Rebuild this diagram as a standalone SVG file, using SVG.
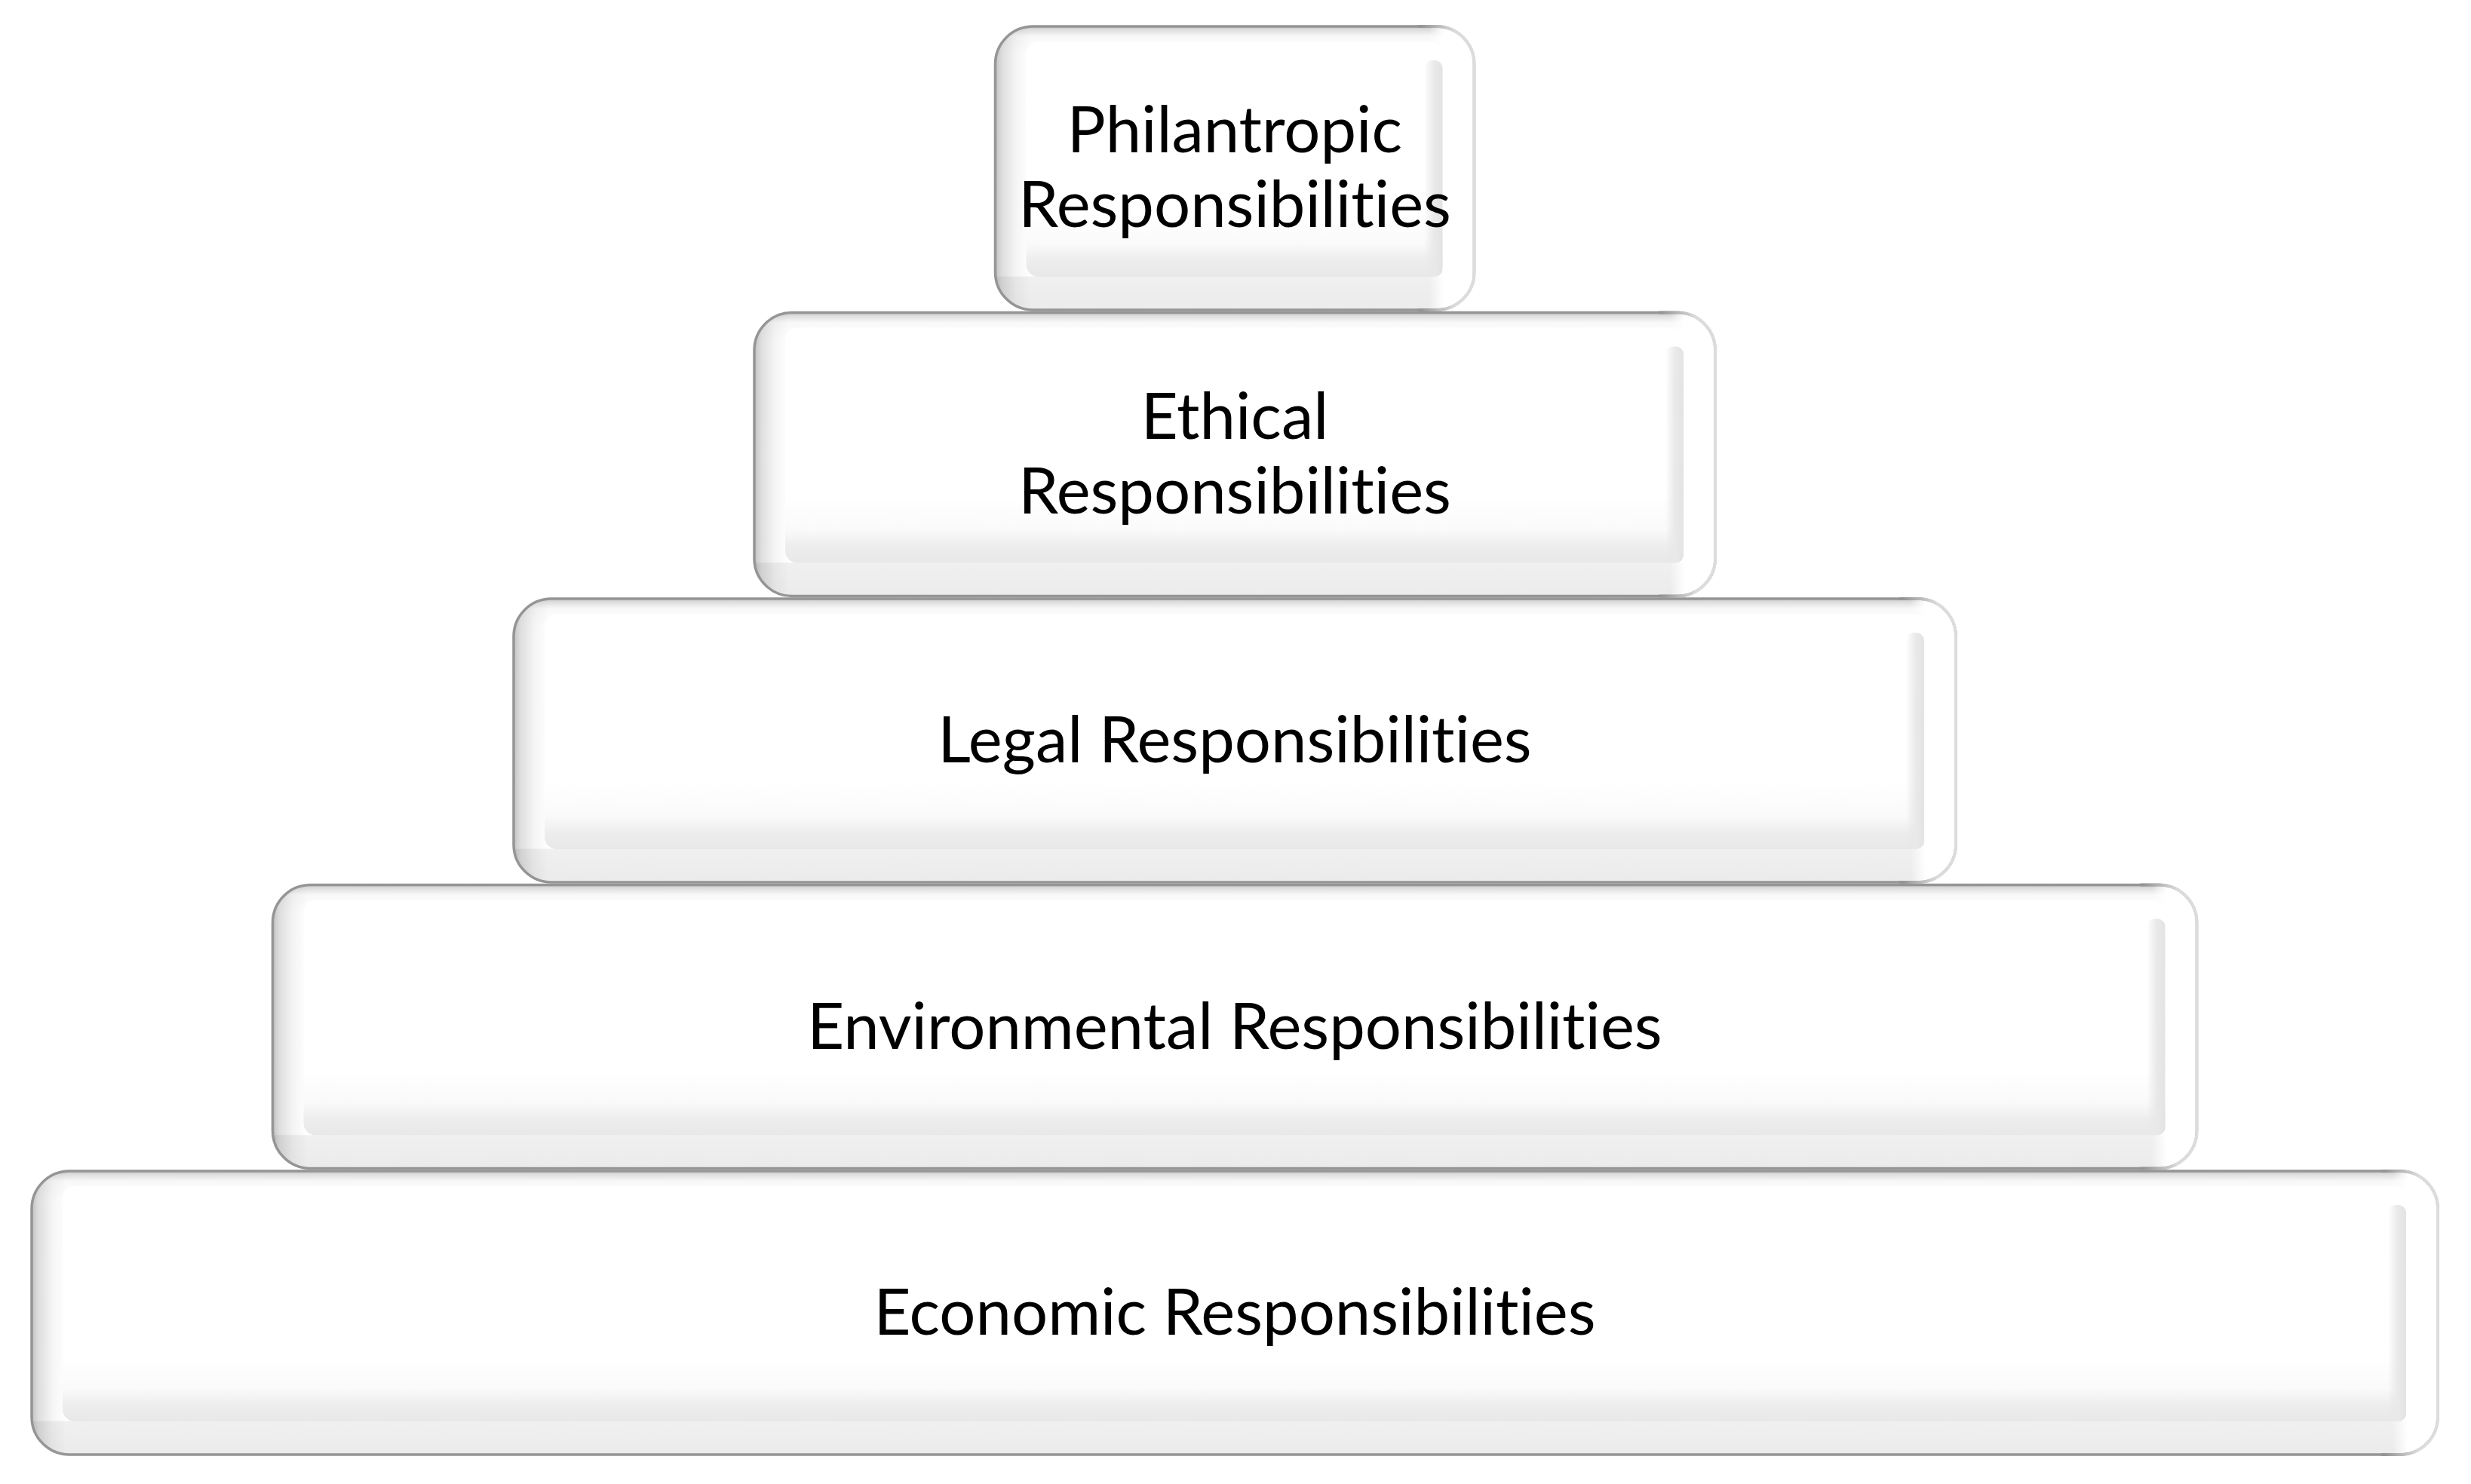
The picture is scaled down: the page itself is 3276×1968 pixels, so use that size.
<svg xmlns="http://www.w3.org/2000/svg" width="3276" height="1968" viewBox="0 0 3276 1968">
<style>
.bg{fill:#ffffff}
.ofill{fill:url(#gOuter)}
.lshade{fill:url(#gLeft)}
.rrim{fill:url(#gRightRim)}
.face{fill:url(#gFace)}
.strip{fill:url(#gStrip)}
.ostroke{fill:none;stroke:#959595;stroke-width:3.5}
.redge{fill:none;stroke:url(#gRightEdge);stroke-width:4}
.lbl{font-family:Lato,"Liberation Sans",sans-serif;font-size:85px;fill:#000000;text-anchor:middle;font-variant-ligatures:none;font-feature-settings:"liga" 0,"clig" 0}
</style>
<defs>
<linearGradient id="gOuter" gradientUnits="userSpaceOnUse" x1="0" y1="0" x2="0" y2="376">
<stop offset="0" stop-color="#c4c4c4"/>
<stop offset="0.012" stop-color="#dedede"/>
<stop offset="0.035" stop-color="#f8f8f8"/>
<stop offset="0.1" stop-color="#ffffff"/>
<stop offset="0.88" stop-color="#ffffff"/>
<stop offset="0.884" stop-color="#f0f0f0"/>
<stop offset="1" stop-color="#ebebeb"/>
</linearGradient>
<linearGradient id="gLeft" gradientUnits="userSpaceOnUse" x1="0" y1="0" x2="46" y2="0">
<stop offset="0" stop-color="#000" stop-opacity="0.24"/>
<stop offset="0.2" stop-color="#000" stop-opacity="0.13"/>
<stop offset="0.6" stop-color="#000" stop-opacity="0.04"/>
<stop offset="1" stop-color="#000" stop-opacity="0"/>
</linearGradient>
<linearGradient id="gRightRim" gradientUnits="userSpaceOnUse" x1="-60" y1="0" x2="-40" y2="0">
<stop offset="0" stop-color="#fff" stop-opacity="0"/>
<stop offset="1" stop-color="#fff" stop-opacity="1"/>
</linearGradient>
<linearGradient id="gFace" gradientUnits="userSpaceOnUse" x1="0" y1="20" x2="0" y2="332">
<stop offset="0" stop-color="#ffffff"/>
<stop offset="0.72" stop-color="#ffffff"/>
<stop offset="0.86" stop-color="#fafafa"/>
<stop offset="0.93" stop-color="#ededed"/>
<stop offset="1" stop-color="#e8e8e8"/>
</linearGradient>
<linearGradient id="gStrip" x1="0" y1="0" x2="1" y2="0">
<stop offset="0" stop-color="#e6e6e6" stop-opacity="0"/>
<stop offset="0.55" stop-color="#e9e9e9"/>
<stop offset="1" stop-color="#e3e3e3"/>
</linearGradient>
<linearGradient id="gRightEdge" gradientUnits="userSpaceOnUse" x1="-70" y1="0" x2="-25" y2="0">
<stop offset="0" stop-color="#959595"/>
<stop offset="1" stop-color="#dcdcdc"/>
</linearGradient>
</defs>
<rect class="bg" x="0" y="0" width="3276" height="1968"/>
<g id="connectors"/>

<g id="economic" transform="translate(42,1553)">
<rect class="ofill" x="0" y="0" width="3190" height="376" rx="50"/>
<rect class="lshade" x="0" y="0" width="3190" height="376" rx="50"/>
<g transform="translate(3190,0)"><rect class="rrim" x="-3190" y="0" width="3190" height="376" rx="50"/></g>
<rect class="face" x="41" y="20" width="3107" height="312" rx="16"/>
<rect class="strip" x="3124" y="45" width="24" height="287" rx="10"/>
<rect class="ostroke" x="0" y="0" width="3190" height="376" rx="50"/>
<g transform="translate(3190,0)"><path class="redge" d="M-75,0 L-50,0 A50,50 0 0 1 0,50 L0,326 A50,50 0 0 1 -50,376 L-75,376"/></g>
<text class="lbl" x="1595" y="217">Economic Responsibilities</text>
</g>

<g id="environmental" transform="translate(361.5,1173.5)">
<rect class="ofill" x="0" y="0" width="2551" height="376" rx="50"/>
<rect class="lshade" x="0" y="0" width="2551" height="376" rx="50"/>
<g transform="translate(2551,0)"><rect class="rrim" x="-2551" y="0" width="2551" height="376" rx="50"/></g>
<rect class="face" x="41" y="20" width="2468" height="312" rx="16"/>
<rect class="strip" x="2485" y="45" width="24" height="287" rx="10"/>
<rect class="ostroke" x="0" y="0" width="2551" height="376" rx="50"/>
<g transform="translate(2551,0)"><path class="redge" d="M-75,0 L-50,0 A50,50 0 0 1 0,50 L0,326 A50,50 0 0 1 -50,376 L-75,376"/></g>
<text class="lbl" x="1275.5" y="217">Environmental Responsibilities</text>
</g>

<g id="legal" transform="translate(681,794)">
<rect class="ofill" x="0" y="0" width="1912" height="376" rx="50"/>
<rect class="lshade" x="0" y="0" width="1912" height="376" rx="50"/>
<g transform="translate(1912,0)"><rect class="rrim" x="-1912" y="0" width="1912" height="376" rx="50"/></g>
<rect class="face" x="41" y="20" width="1829" height="312" rx="16"/>
<rect class="strip" x="1846" y="45" width="24" height="287" rx="10"/>
<rect class="ostroke" x="0" y="0" width="1912" height="376" rx="50"/>
<g transform="translate(1912,0)"><path class="redge" d="M-75,0 L-50,0 A50,50 0 0 1 0,50 L0,326 A50,50 0 0 1 -50,376 L-75,376"/></g>
<text class="lbl" x="956" y="217">Legal Responsibilities</text>
</g>

<g id="ethical" transform="translate(1000,414.5)">
<rect class="ofill" x="0" y="0" width="1274" height="376" rx="50"/>
<rect class="lshade" x="0" y="0" width="1274" height="376" rx="50"/>
<g transform="translate(1274,0)"><rect class="rrim" x="-1274" y="0" width="1274" height="376" rx="50"/></g>
<rect class="face" x="41" y="20" width="1191" height="312" rx="16"/>
<rect class="strip" x="1208" y="45" width="24" height="287" rx="10"/>
<rect class="ostroke" x="0" y="0" width="1274" height="376" rx="50"/>
<g transform="translate(1274,0)"><path class="redge" d="M-75,0 L-50,0 A50,50 0 0 1 0,50 L0,326 A50,50 0 0 1 -50,376 L-75,376"/></g>
<text class="lbl" x="637" y="167">Ethical</text>
<text class="lbl" x="637" y="266">Responsibilities</text>
</g>

<g id="philantropic" transform="translate(1319.5,35)">
<rect class="ofill" x="0" y="0" width="635" height="376" rx="50"/>
<rect class="lshade" x="0" y="0" width="635" height="376" rx="50"/>
<g transform="translate(635,0)"><rect class="rrim" x="-635" y="0" width="635" height="376" rx="50"/></g>
<rect class="face" x="41" y="20" width="552" height="312" rx="16"/>
<rect class="strip" x="569" y="45" width="24" height="287" rx="10"/>
<rect class="ostroke" x="0" y="0" width="635" height="376" rx="50"/>
<g transform="translate(635,0)"><path class="redge" d="M-75,0 L-50,0 A50,50 0 0 1 0,50 L0,326 A50,50 0 0 1 -50,376 L-75,376"/></g>
<text class="lbl" x="317.5" y="167">Philantropic</text>
<text class="lbl" x="317.5" y="266">Responsibilities</text>
</g>
</svg>
